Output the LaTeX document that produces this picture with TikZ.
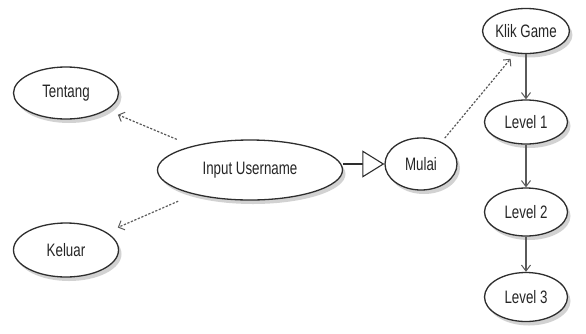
\documentclass[tikz,border=0pt]{standalone}
\usepackage{fontspec}
\setmainfont[FakeStretch=0.74]{Liberation Sans}
\usetikzlibrary{shapes.geometric,arrows.meta,shadows}
\definecolor{edge}{HTML}{2E2E2E}
\definecolor{txt}{HTML}{262626}
\definecolor{conn}{HTML}{5A5A5A}
\tikzset{
  uc/.style={ellipse, draw=edge, line width=1.3pt, fill=white, inner sep=0pt,
    text=txt, font=\fontsize{18}{20}\selectfont,
    drop shadow={shadow xshift=3pt, shadow yshift=-4pt, fill=gray!70, opacity=0.5}},
  dep/.style={draw=conn, line width=1.2pt, dash pattern=on 2.2pt off 1.6pt,
    -{Straight Barb[length=5pt,width=10pt,line width=1pt]}},
  flow/.style={draw=conn, line width=1.1pt, -{Straight Barb[length=6pt,width=9pt,line width=1pt]}},
  gen/.style={draw=edge, line width=1.1pt, -{Triangle[open,length=22pt,width=27pt,line width=1.1pt,fill=white]}}
}
\begin{document}
\begin{tikzpicture}[x=1pt,y=-1pt]
\useasboundingbox (0,0) rectangle (586,333);
\fill[white] (0,0) rectangle (586,333);
\node[uc, minimum width=105pt, minimum height=52pt] (ten) at (66,93) {Tentang};
\node[uc, minimum width=105pt, minimum height=54pt] (kel) at (66,250) {Keluar};
\node[uc, minimum width=185pt, minimum height=60pt] (inp) at (250,170) {Input Username};
\node[uc, minimum width=72pt, minimum height=52pt] (mul) at (421,164) {Mulai};
\node[uc, minimum width=85pt, minimum height=45pt] (klik) at (526,31) {Klik Game};
\node[uc, minimum width=83pt, minimum height=44pt] (l1) at (526,122) {Level 1};
\node[uc, minimum width=83pt, minimum height=48pt] (l2) at (526,212) {Level 2};
\node[uc, minimum width=83pt, minimum height=49pt] (l3) at (526,297) {Level 3};
\draw[dep, shorten <=17pt, shorten >=12pt] (inp) -- (ten);
\draw[dep, shorten <=17pt, shorten >=12pt] (inp) -- (kel);
\draw[dep, shorten <=5pt, shorten >=7pt] (mul.47) -- (klik.244);
\draw[gen] (inp.east |- mul.west) -- (mul.west);
\draw[flow] (klik) -- (l1);
\draw[flow] (l1) -- (l2);
\draw[flow] (l2) -- (l3);
\end{tikzpicture}
\end{document}
